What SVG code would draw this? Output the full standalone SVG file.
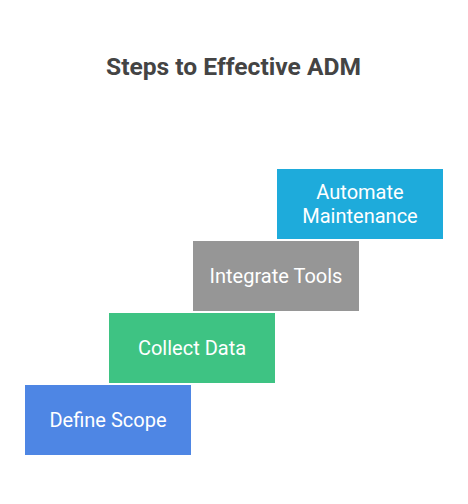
<svg xmlns="http://www.w3.org/2000/svg" width="468" height="504" viewBox="0 0 468 504">
<style>
.t{font-family:Roboto,"Liberation Sans",sans-serif;font-size:20px;fill:#ffffff;text-anchor:middle}
.title{font-family:Roboto,"Liberation Sans",sans-serif;font-size:24.6px;font-weight:bold;fill:#444444;text-anchor:middle}
</style>
<rect width="468" height="504" fill="#ffffff"/>
<text class="title" x="233.5" y="75">Steps to Effective ADM</text>
<g id="connectors"/>
<g id="define-scope"><rect x="25" y="385" width="166" height="70" fill="#4E86E4"/><text class="t" x="108" y="427">Define Scope</text></g>
<g id="collect-data"><rect x="109" y="313" width="166" height="70" fill="#3EC383"/><text class="t" x="192" y="355">Collect Data</text></g>
<g id="integrate-tools"><rect x="193" y="241" width="166" height="70" fill="#969696"/><text class="t" x="276" y="283">Integrate Tools</text></g>
<g id="automate-maintenance"><rect x="277" y="169" width="166" height="70" fill="#1EABDB"/><text class="t" x="360" y="199">Automate</text><text class="t" x="360" y="223">Maintenance</text></g>
</svg>
